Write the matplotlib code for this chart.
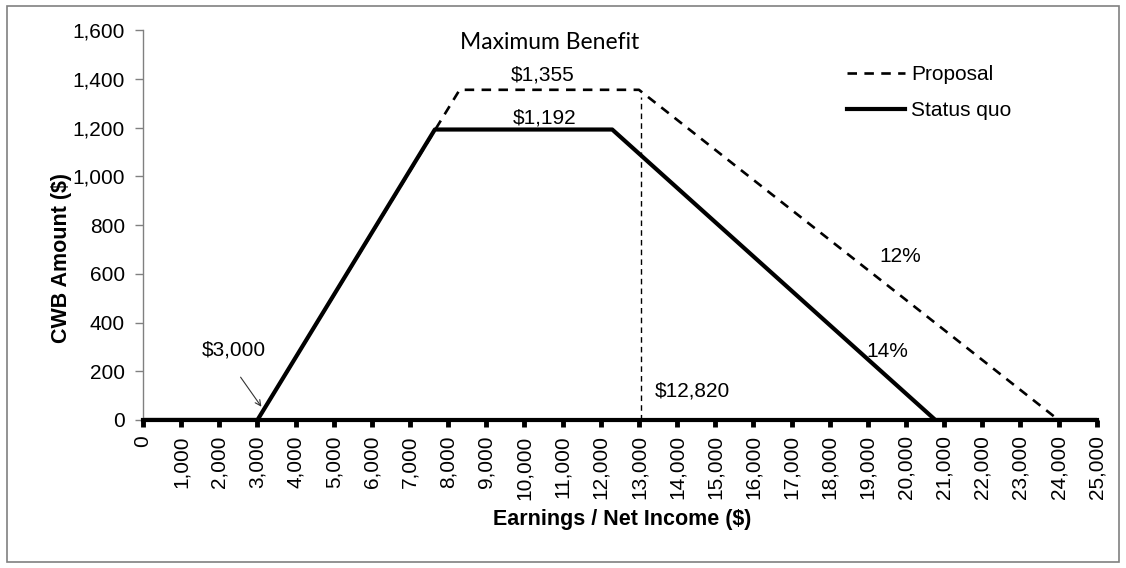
import matplotlib
matplotlib.use("Agg")
import matplotlib.pyplot as plt
from matplotlib.patches import Rectangle

# CWB schedule, breakpoints
proposal_x = [0, 3000, 8300, 13000, 24000, 25000]
proposal_y = [0, 0, 1355, 1355, 0, 0]
status_x = [0, 3000, 7650, 12300, 20770, 25000]
status_y = [0, 0, 1192, 1192, 0, 0]

phaseout_x = 13050
x_ticks = list(range(0, 25001, 1000))
y_ticks = list(range(0, 1601, 200))

plt.rcParams['font.family'] = ['Liberation Sans', 'DejaVu Sans']

fig = plt.figure(figsize=(11.26, 5.68), dpi=100)
ax = fig.add_axes([0.127, 0.2606, 0.847, 0.6864])

# Figure border
fig.patches.append(Rectangle((0.006, 0.01), 0.988, 0.98, transform=fig.transFigure,
                             fill=False, edgecolor='#808080', linewidth=1.2))

ax.plot(proposal_x, proposal_y, color='black', linewidth=1.9,
        linestyle=(0, (3.6, 2.8)), label='Proposal')
ax.plot(status_x, status_y, color='black', linewidth=3.0, label='Status quo',
        solid_joinstyle='round')

# Vertical marker at start of proposal phase-out
ax.plot([phaseout_x, phaseout_x], [0, 1325], color='black', linewidth=1.0,
        linestyle=(0, (4, 3)))

ax.set_xlim(0, 25000)
ax.set_ylim(0, 1600)
ax.set_xticks(x_ticks)
ax.set_xticklabels([f"{v:,}" for v in x_ticks], rotation=90, fontsize=15)
ax.set_yticks(y_ticks)
ax.set_yticklabels([f"{v:,}" for v in y_ticks], fontsize=15)

for s in ['top', 'right']:
    ax.spines[s].set_visible(False)
ax.spines['left'].set_color('#808080')
ax.spines['left'].set_linewidth(1.0)
ax.spines['bottom'].set_color('black')
ax.spines['bottom'].set_linewidth(3.0)
ax.tick_params(axis='x', length=5, width=3.5, color='black', pad=6)
ax.tick_params(axis='y', length=6, width=1.0, color='#808080', pad=7)

# Axis titles
ax.text(0.502, -0.256, 'Earnings / Net Income ($)', transform=ax.transAxes,
        fontsize=15.5, fontweight='bold', ha='center', va='center')
ax.text(-0.085, 0.415, 'CWB Amount ($)', transform=ax.transAxes, rotation=90,
        fontsize=15.5, fontweight='bold', ha='center', va='center')

# Annotations
ax.text(10650, 1551, 'Maximum Benefit', fontsize=16.5, family=['Lato', 'DejaVu Sans'],
        ha='center', va='center')
ax.text(10480, 1415, '$1,355', fontsize=15, ha='center', va='center')
ax.text(10530, 1239, '$1,192', fontsize=15, ha='center', va='center')
ax.text(2385, 287, '$3,000', fontsize=15, ha='center', va='center')
ax.annotate('', xy=(3145, 45), xytext=(2516, 185),
            arrowprops=dict(arrowstyle='->', color='#333333', linewidth=0.8))
ax.text(13417, 119, '$12,820', fontsize=15, ha='left', va='center')
ax.text(18973, 279, '14%', fontsize=15, ha='left', va='center')
ax.text(19313, 669, '12%', fontsize=15, ha='left', va='center')

ax.legend(loc='upper left', bbox_to_anchor=(0.738, 0.91), frameon=False, fontsize=15,
          handlelength=2.8, handletextpad=0.3, labelspacing=0.8, borderaxespad=0,
          borderpad=0)

fig.savefig('out.png', dpi=100)
